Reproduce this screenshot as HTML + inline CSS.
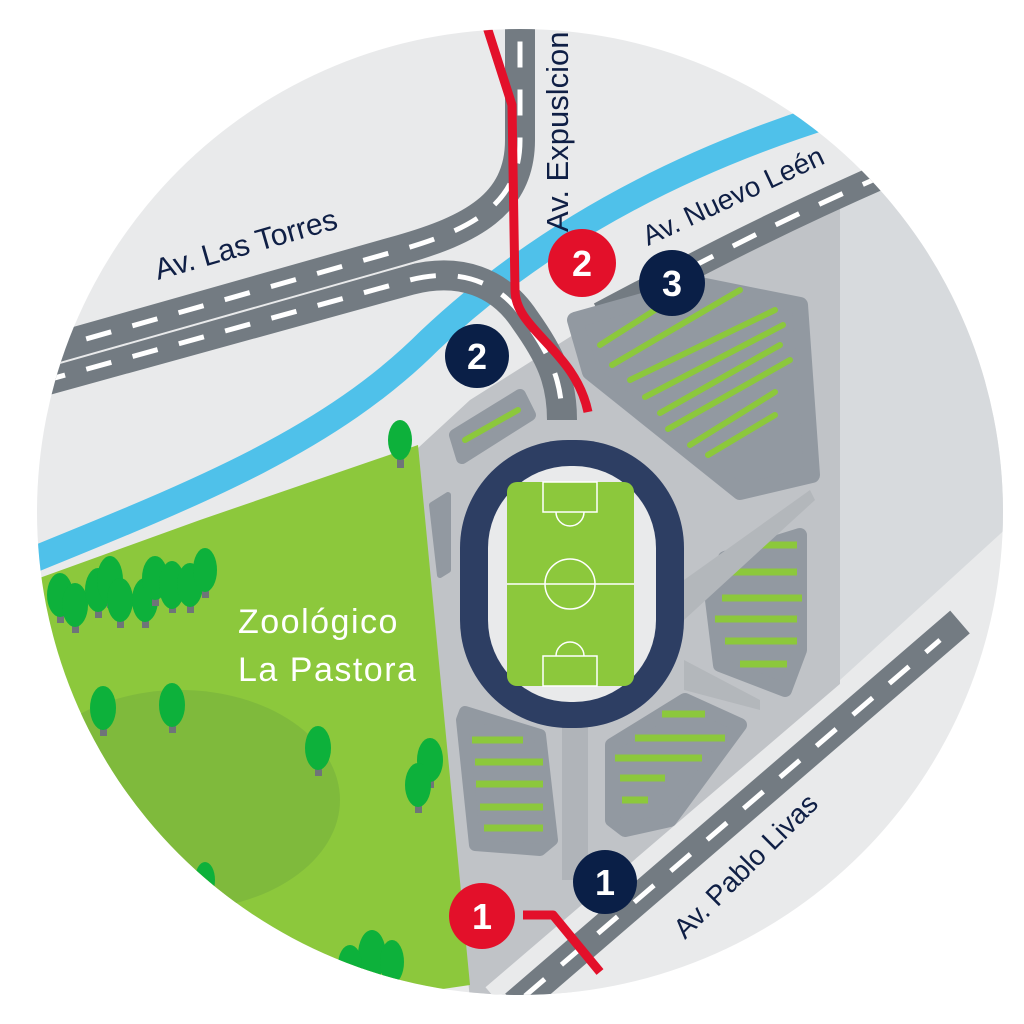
<!DOCTYPE html>
<html><head><meta charset="utf-8"><style>
html,body{margin:0;padding:0;background:#fff;}
svg{display:block}
text{font-family:"Liberation Sans",sans-serif;}
</style></head><body>
<svg width="1024" height="1024" viewBox="0 0 1024 1024" xmlns="http://www.w3.org/2000/svg">
<defs><clipPath id="c"><circle cx="520" cy="512" r="483"/></clipPath></defs>
<g clip-path="url(#c)">
<rect width="1024" height="1024" fill="#e9eaeb"/>
<polygon points="418,448 470,400 600,318 660,290 840,195 840,700 520,1000 470,1000" fill="#c0c3c7"/>
<polygon points="840,190 1010,120 1010,525 840,680" fill="#d7dadd"/>
<polygon points="20,585 200,520 418,445 470,985 300,1010 20,1010" fill="#8cc83c"/>
<ellipse cx="180" cy="800" rx="160" ry="110" fill="#7fba3c"/>
<path d="M20,565 C200,492 330,440 430,340 C520,255 650,170 840,112" stroke="#4fc1ea" stroke-width="26" fill="none"/>
<path d="M40,382 L410,280 C460,267 500,282 525,320 C550,355 562,380 562,420" stroke="#737b82" stroke-width="30" fill="none"/>
<path d="M40,382 L410,280 C460,267 500,282 525,320 C550,355 562,380 562,420" stroke="#fff" stroke-width="5" stroke-dasharray="26,22" fill="none"/>
<path d="M40,352 L400,250 C470,230 520,205 520,140 L520,20" stroke="#e9eaeb" stroke-width="34" fill="none"/>
<path d="M40,352 L400,250 C470,230 520,205 520,140 L520,20" stroke="#737b82" stroke-width="30" fill="none"/>
<path d="M40,352 L400,250 C470,230 520,205 520,140 L520,20" stroke="#fff" stroke-width="5" stroke-dasharray="26,22" fill="none"/>
<path d="M600,315 C700,262 780,220 900,168" stroke="#737b82" stroke-width="26" fill="none"/>
<path d="M690,268 C760,232 800,212 900,168" stroke="#fff" stroke-width="5" stroke-dasharray="26,22" fill="none"/>
<path d="M505,1010 L955,625" stroke="#e9eaeb" stroke-width="60" fill="none"/>
<path d="M515,1005 L960,622" stroke="#737b82" stroke-width="30" fill="none"/>
<path d="M525,996 L940,640" stroke="#fff" stroke-width="5" stroke-dasharray="26,22" fill="none"/>
<polygon points="575,320 700,285 800,305 812,475 740,492 590,372" fill="#9299a1" stroke="#9299a1" stroke-width="16" stroke-linejoin="round"/>
<g stroke="#8cc83c" stroke-width="6" stroke-linecap="round">
<line x1="600" y1="345" x2="655" y2="310"/><line x1="612" y1="365" x2="740" y2="290"/>
<line x1="630" y1="380" x2="775" y2="310"/><line x1="645" y1="397" x2="783" y2="325"/>
<line x1="660" y1="413" x2="780" y2="345"/><line x1="668" y1="429" x2="790" y2="360"/>
<line x1="690" y1="445" x2="775" y2="392"/><line x1="708" y1="455" x2="775" y2="415"/>
</g>
<polygon points="455,435 520,395 530,415 462,458" fill="#9299a1" stroke="#9299a1" stroke-width="12" stroke-linejoin="round"/>
<line x1="465" y1="440" x2="518" y2="410" stroke="#8cc83c" stroke-width="6" stroke-linecap="round"/>
<polygon points="432,505 448,495 448,570 440,575" fill="#9299a1" stroke="#9299a1" stroke-width="6" stroke-linejoin="round"/>
<polygon points="725,558 800,535 800,650 785,690 720,665 712,600" fill="#9299a1" stroke="#9299a1" stroke-width="14" stroke-linejoin="round"/>
<g stroke="#8cc83c" stroke-width="7"><line x1="760" y1="545" x2="797" y2="545"/><line x1="727" y1="572" x2="797" y2="572"/><line x1="722" y1="598" x2="802" y2="598"/><line x1="715" y1="619" x2="797" y2="619"/><line x1="725" y1="641" x2="797" y2="641"/><line x1="740" y1="664" x2="787" y2="664"/></g>
<polygon points="612,745 685,700 740,725 670,820 625,830 612,820" fill="#9299a1" stroke="#9299a1" stroke-width="14" stroke-linejoin="round"/>
<g stroke="#8cc83c" stroke-width="7"><line x1="662" y1="714" x2="705" y2="714"/><line x1="635" y1="738" x2="725" y2="738"/><line x1="615" y1="758" x2="702" y2="758"/><line x1="620" y1="778" x2="665" y2="778"/><line x1="622" y1="800" x2="648" y2="800"/></g>
<polygon points="465,712 540,735 552,840 540,850 475,845 462,720" fill="#9299a1" stroke="#9299a1" stroke-width="12" stroke-linejoin="round"/>
<g stroke="#8cc83c" stroke-width="7"><line x1="472" y1="740" x2="523" y2="740"/><line x1="475" y1="762" x2="543" y2="762"/><line x1="476" y1="784" x2="543" y2="784"/><line x1="480" y1="807" x2="543" y2="807"/><line x1="484" y1="828" x2="543" y2="828"/></g>
<rect x="562" y="720" width="26" height="160" fill="#b0b4b9"/>
<polygon points="684,580 810,490 815,500 684,620" fill="#b3b7bb"/>
<polygon points="684,660 760,700 760,710 684,690" fill="#b3b7bb"/>
<rect x="460" y="440" width="224" height="288" rx="108" fill="#2d3e63"/>
<rect x="488" y="466" width="168" height="236" rx="82" fill="#e9eaeb"/>
<rect x="507" y="482" width="127" height="204" rx="10" fill="#8cc83c"/>
<g stroke="#fff" stroke-width="1.5" fill="none">
<line x1="507" y1="584" x2="634" y2="584"/><circle cx="570" cy="584" r="25"/>
<rect x="543" y="482" width="54" height="30"/><path d="M556,512 A14,14 0 0 0 584,512"/>
<rect x="543" y="656" width="54" height="30"/><path d="M556,656 A14,14 0 0 1 584,656"/>
</g>
<g fill="#0db13b">
<g transform="translate(400,440)"><rect x="-3" y="14" width="7" height="14" fill="#6f7479"/><ellipse cx="0" cy="0" rx="12" ry="20"/></g>
<g transform="translate(60,595)"><rect x="-3" y="14" width="7" height="14" fill="#6f7479"/><ellipse cx="0" cy="0" rx="13" ry="22"/></g>
<g transform="translate(75,605)"><rect x="-3" y="14" width="7" height="14" fill="#6f7479"/><ellipse cx="0" cy="0" rx="13" ry="22"/></g>
<g transform="translate(98,590)"><rect x="-3" y="14" width="7" height="14" fill="#6f7479"/><ellipse cx="0" cy="0" rx="13" ry="22"/></g>
<g transform="translate(110,580)"><rect x="-3" y="14" width="7" height="14" fill="#6f7479"/><ellipse cx="0" cy="0" rx="13" ry="24"/></g>
<g transform="translate(120,600)"><rect x="-3" y="14" width="7" height="14" fill="#6f7479"/><ellipse cx="0" cy="0" rx="13" ry="22"/></g>
<g transform="translate(145,600)"><rect x="-3" y="14" width="7" height="14" fill="#6f7479"/><ellipse cx="0" cy="0" rx="13" ry="22"/></g>
<g transform="translate(155,578)"><rect x="-3" y="14" width="7" height="14" fill="#6f7479"/><ellipse cx="0" cy="0" rx="13" ry="22"/></g>
<g transform="translate(172,585)"><rect x="-3" y="14" width="7" height="14" fill="#6f7479"/><ellipse cx="0" cy="0" rx="13" ry="24"/></g>
<g transform="translate(190,585)"><rect x="-3" y="14" width="7" height="14" fill="#6f7479"/><ellipse cx="0" cy="0" rx="13" ry="22"/></g>
<g transform="translate(205,570)"><rect x="-3" y="14" width="7" height="14" fill="#6f7479"/><ellipse cx="0" cy="0" rx="12" ry="22"/></g>
<g transform="translate(103,708)"><rect x="-3" y="14" width="7" height="14" fill="#6f7479"/><ellipse cx="0" cy="0" rx="13" ry="22"/></g>
<g transform="translate(172,705)"><rect x="-3" y="14" width="7" height="14" fill="#6f7479"/><ellipse cx="0" cy="0" rx="13" ry="22"/></g>
<g transform="translate(318,748)"><rect x="-3" y="14" width="7" height="14" fill="#6f7479"/><ellipse cx="0" cy="0" rx="13" ry="22"/></g>
<g transform="translate(430,760)"><rect x="-3" y="14" width="7" height="14" fill="#6f7479"/><ellipse cx="0" cy="0" rx="13" ry="22"/></g>
<g transform="translate(418,785)"><rect x="-3" y="14" width="7" height="14" fill="#6f7479"/><ellipse cx="0" cy="0" rx="13" ry="22"/></g>
<ellipse cx="372" cy="955" rx="14" ry="25"/><ellipse cx="392" cy="962" rx="12" ry="22"/><ellipse cx="350" cy="965" rx="12" ry="20"/>
<ellipse cx="205" cy="880" rx="10" ry="18"/>
</g>
<path d="M487,27 L512,105 L515,290 C515,330 575,350 588,412" stroke="#e3102a" stroke-width="9" fill="none"/>
<path d="M523,915 L553,915 L600,972" stroke="#e3102a" stroke-width="9" fill="none" stroke-linejoin="round"/>
</g>
<g fill="#0f1f45" font-size="30">
<text transform="translate(158,280) rotate(-16)">Av. Las Torres</text>
<text transform="translate(568,232) rotate(-90)" font-size="31">Av. Expuslcion</text>
<text transform="translate(648,246) rotate(-25)" font-size="28">Av. Nuevo Leén</text>
<text transform="translate(685,940) rotate(-45)" font-size="28">Av. Pablo Livas</text>
</g>
<text x="238" y="633" font-size="34" fill="#fff" letter-spacing="1.5">Zoológico</text>
<text x="238" y="681" font-size="34" fill="#fff" letter-spacing="1.5">La Pastora</text>
<g font-size="36" font-weight="bold" fill="#fff" text-anchor="middle">
<circle cx="582" cy="263" r="34" fill="#e3102a"/><text x="582" y="276">2</text>
<circle cx="672" cy="283" r="33" fill="#0a1f47"/><text x="672" y="296">3</text>
<circle cx="477" cy="356" r="32" fill="#0a1f47"/><text x="477" y="369">2</text>
<circle cx="605" cy="882" r="32" fill="#0a1f47"/><text x="605" y="895">1</text>
<circle cx="482" cy="916" r="33" fill="#e3102a"/><text x="482" y="929">1</text>
</g>
</svg>
</body></html>
